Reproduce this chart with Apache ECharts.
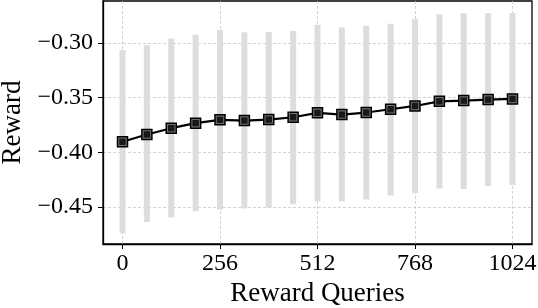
<!DOCTYPE html>
<html>
<head>
<meta charset="utf-8">
<script src="https://cdn.jsdelivr.net/npm/echarts@6/dist/echarts.min.js"></script>
<style>html,body{margin:0;padding:0;background:#fff}#c{width:538px;height:308px}</style>
</head>
<body>
<div id="c"></div>
<script>
const queries = [0, 64, 128, 192, 256, 320, 384, 448, 512, 576, 640, 704, 768, 832, 896, 960, 1024];
const rewardMean = [-0.3903, -0.3836, -0.3779, -0.3733, -0.3703, -0.3709, -0.3700, -0.3679, -0.3639, -0.3655, -0.3636, -0.3606, -0.3576, -0.3534, -0.3527, -0.3518, -0.3512];
const rewardLow = [-0.4739, -0.4636, -0.4594, -0.4536, -0.4521, -0.4512, -0.4503, -0.4473, -0.4445, -0.4445, -0.4430, -0.4394, -0.4370, -0.4330, -0.4333, -0.4306, -0.4297];
const rewardHigh = [-0.3066, -0.3021, -0.2961, -0.2925, -0.2882, -0.2903, -0.2900, -0.2891, -0.2834, -0.2861, -0.2845, -0.2825, -0.2785, -0.2739, -0.2730, -0.2730, -0.2727];
const xTicks = [0, 256, 512, 768, 1024];
const yTicks = [-0.45, -0.40, -0.35, -0.30];

const FONT = 'Liberation Serif';
const chart = echarts.init(document.getElementById('c'), null, {renderer: 'canvas'});
const barData = queries.map((q, i) => [q, rewardLow[i], rewardHigh[i]]);
const lineData = queries.map((q, i) => [q, rewardMean[i]]);

chart.setOption({
  animation: false,
  grid: {left: 103, right: 6, top: 1, bottom: 64, show: true, borderColor: '#000', borderWidth: 1.3,
    backgroundColor: 'transparent', containLabel: false, outerBoundsMode: 'none'},
  xAxis: {
    type: 'value', min: -51.2, max: 1075.2,
    name: 'Reward Queries', nameLocation: 'middle', nameGap: 36,
    nameTextStyle: {fontFamily: FONT, fontSize: 27, color: '#000'},
    axisLine: {show: true, onZero: false, lineStyle: {color: '#000', width: 1.3}},
    axisTick: {show: true, customValues: xTicks, length: 5, lineStyle: {color: '#000', width: 1}},
    axisLabel: {customValues: xTicks, fontFamily: FONT, fontSize: 24, color: '#000', margin: 8,
      formatter: v => String(v)},
    splitLine: {show: true, lineStyle: {color: '#c8c8c8', type: [3, 2], width: 0.8}}
  },
  yAxis: {
    type: 'value', min: -0.4836, max: -0.2618,
    name: 'Reward', nameLocation: 'middle', nameGap: 67,
    nameTextStyle: {fontFamily: FONT, fontSize: 27, color: '#000'},
    axisLine: {show: true, onZero: false, lineStyle: {color: '#000', width: 1.3}},
    axisTick: {show: true, customValues: yTicks, length: 5, lineStyle: {color: '#000', width: 1}},
    axisLabel: {customValues: yTicks, fontFamily: FONT, fontSize: 24, color: '#000', margin: 10,
      formatter: v => (v < 0 ? '\u2212' : '') + Math.abs(v).toFixed(2)},
    splitLine: {show: true, lineStyle: {color: '#c8c8c8', type: [3, 2], width: 0.8}}
  },
  series: [
    {
      type: 'custom',
      data: barData,
      encode: {x: 0, y: [1, 2]},
      z: 1,
      renderItem: function (params, api) {
        const x = api.value(0);
        const top = api.coord([x, api.value(2)]);
        const bot = api.coord([x, api.value(1)]);
        return {type: 'rect', shape: {x: top[0] - 3, y: top[1], width: 6, height: bot[1] - top[1]}, style: {fill: '#dddddd'}};
      }
    },
    {
      type: 'line',
      data: lineData,
      z: 3,
      symbol: 'rect', symbolSize: 10,
      lineStyle: {color: '#000', width: 2.2},
      itemStyle: {color: '#777', borderColor: '#000', borderWidth: 1.5}
    },
    {
      type: 'scatter',
      data: lineData,
      z: 4,
      symbol: 'rect', symbolSize: 6.5,
      itemStyle: {color: '#000'}
    }
  ]
});
</script>
</body>
</html>
